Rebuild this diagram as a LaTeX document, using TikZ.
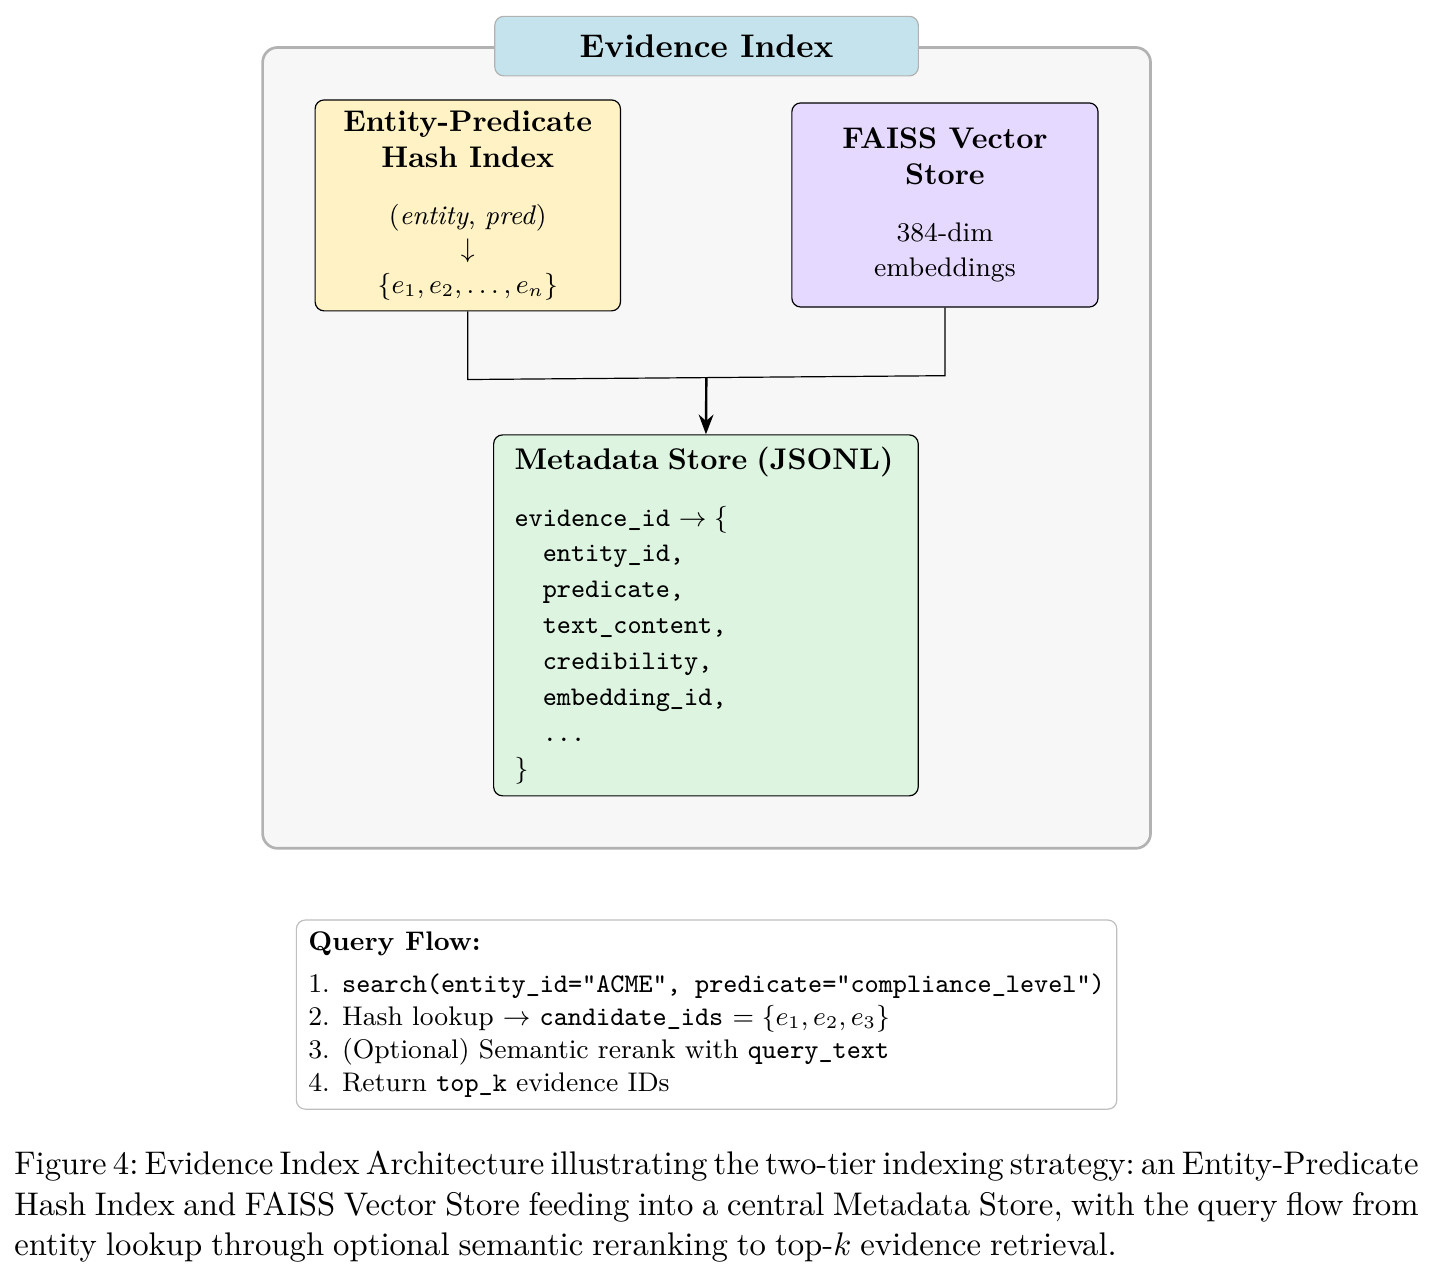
\documentclass[tikz,border=0pt,11pt]{standalone}
\usepackage{amsmath,amssymb}
\usepackage{xcolor}
\usetikzlibrary{positioning,arrows.meta,fit,backgrounds,calc}

\definecolor{idxblue}{HTML}{C5E3EC}
\definecolor{hashyellow}{HTML}{FFF3C6}
\definecolor{faisslilac}{HTML}{E6D9FF}
\definecolor{metagreen}{HTML}{DCF4E0}
\definecolor{framefill}{HTML}{F7F7F7}

\begin{document}
\begin{tikzpicture}[
		frame/.style={draw=black!30, fill=framefill, rectangle, rounded corners=5pt,
				line width=0.9pt, inner sep=0.61cm},
		titlebox/.style={draw=black!30, fill=idxblue, rectangle, rounded corners=3pt,
				minimum width=4.98cm, minimum height=0.7cm, font=\normalsize\bfseries},
		hashbox/.style={draw=black, fill=hashyellow, rectangle, rounded corners=3pt,
				minimum width=3.59cm, minimum height=2.48cm, align=center, font=\footnotesize},
		faissbox/.style={draw=black, fill=faisslilac, rectangle, rounded corners=3pt,
				minimum width=3.6cm, minimum height=2.4cm, align=center, font=\footnotesize},
		metabox/.style={draw=black, fill=metagreen, rectangle, rounded corners=3pt,
				text width=4.5cm, inner xsep=7pt, inner ysep=4pt,
				minimum height=4.2cm, align=left, font=\footnotesize},
		flowbox/.style={draw=black!25, fill=white, rectangle, rounded corners=3pt,
				minimum width=9.57cm, minimum height=2.22cm, inner sep=4pt,
				align=left, font=\footnotesize},
		captext/.style={text width=16.51cm, align=justify, inner sep=0pt,
				font={\normalsize\frenchspacing\spaceskip=3pt plus 2pt minus 1.5pt
						\exhyphenpenalty=10000}},
		line/.style={draw=black},
		ar/.style={-{Stealth}, thick},
	]
	\useasboundingbox (-8.30,5.255) rectangle (8.56,-9.805);
	% the two indexes and the metadata store
	\node[hashbox] (hash) at (-2.80, 2.84) {{\small\bfseries Entity-Predicate}\\[1pt]
		{\small\bfseries Hash Index}\\[8pt]
		(\textit{entity}, \textit{pred})\\
		$\downarrow$\\[1pt]
		$\{e_1, e_2, \ldots, e_n\}$};
	\node[faissbox] (faiss) at ( 2.81, 2.845) {{\small\bfseries FAISS Vector}\\[1pt]
		{\small\bfseries Store}\\[8pt]
		384-dim\\[1pt]
		embeddings};
	\node[metabox] (meta) at (0, -1.98) {{\small\bfseries Metadata Store (JSONL)}\\[8pt]
		\texttt{evidence\_id} $\rightarrow \{$\\[1pt]
		\texttt{\phantom{xx}entity\_id,}\\[1pt]
		\texttt{\phantom{xx}predicate,}\\[1pt]
		\texttt{\phantom{xx}text\_content,}\\[1pt]
		\texttt{\phantom{xx}credibility,}\\[1pt]
		\texttt{\phantom{xx}embedding\_id,}\\[1pt]
		\texttt{\phantom{xx}...}\\[1pt]
		$\}$};
	\draw[line] (hash.south) -- ++(0,-0.8) -- ($(faiss.south)+(0,-0.8)$)
		coordinate[pos=0.5] (join) -- (faiss.south);
	\draw[ar] (join) -- (meta.north);
	\begin{scope}[on background layer]
		\node[frame, fit=(hash)(faiss)(meta)] (box) {};
	\end{scope}
	\node[titlebox] (title) at (box.north) {Evidence Index};
	% query flow
	\node[flowbox, below=0.82cm of box] (flow) {\textbf{Query Flow:}\\[3pt]
		1. \texttt{search(entity\_id="ACME", predicate="compliance\_level")}\\
		2. Hash lookup $\rightarrow$ \texttt{candidate\_ids} $= \{e_1, e_2, e_3\}$\\
		3. (Optional) Semantic rerank with \texttt{query\_text}\\
		4. Return \texttt{top\_k} evidence IDs};
	\node[captext] (cap) at (0.123, -8.935) {Figure 4: Evidence Index Architecture illustrating
		the two-tier indexing strategy: an Entity-Predicate\linebreak Hash Index and FAISS Vector Store
		feeding into a central Metadata Store, with the query flow from\linebreak entity lookup through
		optional semantic reranking to top-$k$ evidence retrieval.};
\end{tikzpicture}
\end{document}
